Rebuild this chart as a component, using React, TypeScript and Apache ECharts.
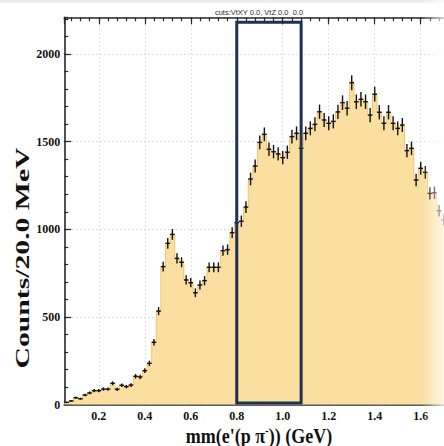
import React, { useEffect, useRef } from "react";
import * as echarts from "echarts";

// Histogram definition (20 MeV bins starting at 0.05 GeV)
const binLow = 0.05;
const binWidth = 0.02;
// Counts per bin (bin centres 0.06, 0.08, ..., 1.70 GeV)
const counts = [
  12, 20, 39, 33, 54, 66, 79, 79, 88, 88,
  121, 87, 110, 102, 111, 161, 157, 193, 235, 355,
  533, 787, 920, 971, 834, 812, 711, 695, 638, 682,
  707, 783, 783, 783, 878, 884, 981, 1038, 1046, 1127,
  1287, 1361, 1496, 1542, 1457, 1443, 1430, 1409, 1440, 1529,
  1548, 1462, 1548, 1576, 1599, 1671, 1624, 1605, 1616, 1670,
  1723, 1691, 1837, 1728, 1742, 1728, 1652, 1771, 1668, 1605,
  1668, 1605, 1576, 1595, 1449, 1462, 1281, 1348, 1325, 1205,
  1209, 1106, 1053,
];
// Axis ranges and ticks
const xMin = 0.05;
const xMax = 1.71;
const xMajor = 0.2;
const xMinor = 0.04;
const yMin = 0;
const yMax = 2210;
const yMajor = 500;
const yMinor = 100;
// Selection window drawn as a box
const boxX = [0.8, 1.08];
const boxTop = 2182;

const titleText = "cuts:VtXY 0.0, VtZ 0.0  0.0";
const yTitle = "Counts/20.0 MeV";

const SERIF = "'Liberation Serif', 'Times New Roman', serif";
const AXIS_COLOR = "#2a2a2a";

export default function App() {
  const ref = useRef<HTMLDivElement>(null);

  useEffect(() => {
    if (!ref.current) return;
    const chart = echarts.init(ref.current, undefined, { renderer: "svg" });

    const step: number[][] = [];
    counts.forEach((c, i) => {
      const x0 = +(binLow + i * binWidth).toFixed(4);
      const x1 = +(x0 + binWidth).toFixed(4);
      step.push([x0, c], [x1, c]);
    });
    const points = counts.map((c, i) => [+(binLow + (i + 0.5) * binWidth).toFixed(4), c]);

    const tickStyle = { color: AXIS_COLOR, width: 1.2 };

    const option: any = {
      animation: false,
      backgroundColor: "#ffffff",
      grid: { left: 64.3, top: 17.3, right: 14, bottom: 41.5, containLabel: false },
      xAxis: [
        {
          type: "value", position: "bottom", min: xMin, max: xMax,
          minInterval: xMajor, maxInterval: xMajor,
          axisLine: { show: true, onZero: false, lineStyle: { color: AXIS_COLOR, width: 1.6 } },
          axisTick: { show: true, inside: true, length: 7, lineStyle: tickStyle },
          axisLabel: {
            show: true, margin: 5, showMinLabel: false, showMaxLabel: false,
            fontFamily: SERIF, fontWeight: "bold", fontSize: 12, color: "#111",
            formatter: (v: number) => v.toFixed(1),
          },
          splitLine: { show: true, lineStyle: { color: "#c4c4c4", type: [1, 3], width: 1 } },
        },
        {
          type: "value", position: "bottom", min: xMin, max: xMax,
          minInterval: xMinor, maxInterval: xMinor,
          axisLine: { show: false, onZero: false },
          axisTick: { show: true, inside: true, length: 4, lineStyle: tickStyle },
          axisLabel: { show: false },
          splitLine: { show: false },
        },
        {
          type: "value", position: "top", min: xMin, max: xMax,
          minInterval: xMajor, maxInterval: xMajor,
          axisLine: { show: true, onZero: false, lineStyle: { color: AXIS_COLOR, width: 1.6 } },
          axisTick: { show: true, inside: true, length: 7, lineStyle: tickStyle },
          axisLabel: { show: false },
          splitLine: { show: false },
        },
        {
          type: "value", position: "top", min: xMin, max: xMax,
          minInterval: xMinor, maxInterval: xMinor,
          axisLine: { show: false, onZero: false },
          axisTick: { show: true, inside: true, length: 4, lineStyle: tickStyle },
          axisLabel: { show: false },
          splitLine: { show: false },
        },
      ],
      yAxis: [
        {
          type: "value", position: "left", min: yMin, max: yMax, interval: yMajor,
          axisLine: { show: true, onZero: false, lineStyle: { color: AXIS_COLOR, width: 1.6 } },
          axisTick: { show: true, inside: true, length: 7, lineStyle: tickStyle },
          axisLabel: {
            show: true, margin: 4, showMaxLabel: false,
            fontFamily: SERIF, fontWeight: "bold", fontSize: 12, color: "#111",
            formatter: (v: number) => (v % yMajor === 0 ? String(v) : ""),
          },
          splitLine: { show: true, lineStyle: { color: "#c4c4c4", type: [1, 3], width: 1 } },
        },
        {
          type: "value", position: "left", min: yMin, max: yMax, interval: yMinor,
          axisLine: { show: false, onZero: false },
          axisTick: { show: true, inside: true, length: 4, lineStyle: tickStyle },
          axisLabel: { show: false },
          splitLine: { show: false },
        },
      ],
      series: [
        {
          type: "line",
          xAxisIndex: 0, yAxisIndex: 0,
          data: step,
          showSymbol: false,
          symbol: "none",
          silent: true,
          lineStyle: { color: "#F2C46C", width: 1 },
          areaStyle: { color: "#FADFA0", opacity: 1 },
          z: 1,
        },
        {
          type: "custom",
          xAxisIndex: 0, yAxisIndex: 0,
          data: points,
          silent: true,
          z: 3,
          renderItem: (_params: any, api: any) => {
            const c = api.value(0);
            const v = api.value(1);
            const e = Math.sqrt(v);
            const l = api.coord([c - binWidth / 2, v]);
            const r = api.coord([c + binWidth / 2, v]);
            const t = api.coord([c, v + e]);
            const b = api.coord([c, Math.max(0, v - e)]);
            const st = { stroke: "#111", lineWidth: 1.4 };
            return {
              type: "group",
              children: [
                { type: "line", shape: { x1: l[0], y1: l[1], x2: r[0], y2: r[1] }, style: st },
                { type: "line", shape: { x1: t[0], y1: t[1], x2: b[0], y2: b[1] }, style: st },
              ],
            };
          },
        },
        {
          type: "custom",
          xAxisIndex: 0, yAxisIndex: 0,
          data: [[boxX[0], boxX[1], boxTop]],
          silent: true,
          z: 5,
          renderItem: (_params: any, api: any) => {
            const p0 = api.coord([api.value(0), 0]);
            const p1 = api.coord([api.value(1), api.value(2)]);
            return {
              type: "rect",
              shape: { x: p0[0], y: p1[1], width: p1[0] - p0[0], height: p0[1] - p1[1] - 1.5 },
              style: { fill: "none", stroke: "#1D3253", lineWidth: 3 },
            };
          },
        },
      ],
      graphic: [
        { type: "rect", left: 0, top: 0, shape: { width: 460, height: 2.5 }, style: { fill: "#ebebeb" }, silent: true },
        {
          type: "text", x: 259, y: 12, silent: true,
          style: {
            text: titleText, fill: "#2e2e2e", fontSize: 7.5,
            fontFamily: "'Liberation Sans', Arial, sans-serif",
            textAlign: "center", textVerticalAlign: "middle",
          },
        },
        {
          type: "text", x: 23, y: 258, rotation: Math.PI / 2, scaleX: 1.65, silent: true,
          style: {
            text: yTitle, fill: "#111", fontSize: 18, fontWeight: "bold", fontFamily: SERIF,
            textAlign: "center", textVerticalAlign: "middle",
          },
        },
        {
          type: "text", x: 259, y: 436, scaleX: 0.9, silent: true,
          style: {
            text: "{a|mm(e'(p π}{s|-}{a|)) (GeV)}",
            fill: "#111", fontFamily: SERIF, fontWeight: "bold", fontSize: 20,
            textAlign: "center", textVerticalAlign: "middle",
            rich: {
              a: { fontFamily: SERIF, fontWeight: "bold", fontSize: 20, fill: "#111", lineHeight: 22 },
              s: { fontFamily: SERIF, fontWeight: "bold", fontSize: 12, fill: "#111", verticalAlign: "top", lineHeight: 12 },
            },
          },
        },
        {
          type: "rect", x: 422, y: 0, silent: true, z: 100,
          shape: { width: 22, height: 446 },
          style: {
            fill: new echarts.graphic.LinearGradient(0, 0, 1, 0, [
              { offset: 0, color: "rgba(255,255,255,0)" },
              { offset: 1, color: "rgba(255,255,255,0.75)" },
            ]),
          },
        },
      ],
    };

    chart.setOption(option);
    return () => chart.dispose();
  }, []);

  return (
    <div
      ref={ref}
      style={{ position: "fixed", left: 0, top: 0, width: 460, height: 446, background: "#fff" }}
    />
  );
}
